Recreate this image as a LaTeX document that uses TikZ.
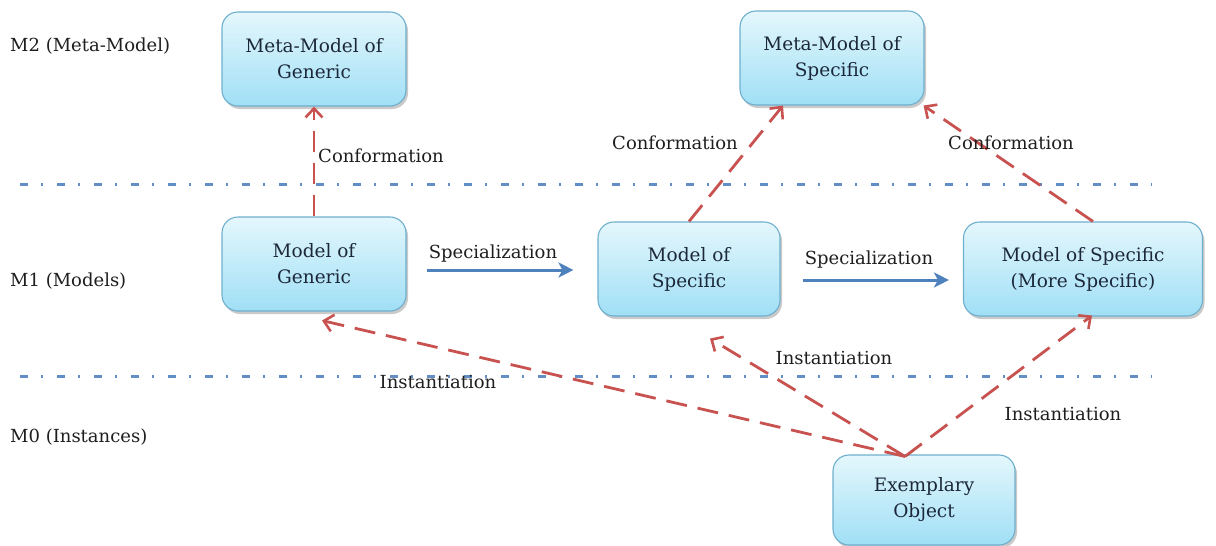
\documentclass[tikz,border=0pt]{standalone}
\usepackage{fontspec}
\setmainfont{DejaVu Serif}
\usetikzlibrary{arrows.meta,shadows,calc}

\definecolor{boxtop}{RGB}{228,247,252}
\definecolor{boxbot}{RGB}{160,223,246}
\definecolor{boxedge}{RGB}{110,175,205}
\definecolor{boxtext}{RGB}{28,40,58}
\definecolor{labeltext}{RGB}{30,30,30}
\definecolor{redline}{RGB}{200,82,80}
\definecolor{blueline}{RGB}{79,129,189}

\tikzset{
  modelbox/.style={rounded corners=16pt, draw=boxedge, line width=1.1pt,
    top color=boxtop, bottom color=boxbot, align=center, text=boxtext,
    font=\fontsize{18.5}{26}\selectfont, inner sep=0pt,
    drop shadow={shadow xshift=2pt, shadow yshift=-3pt, opacity=0.35, fill=black!60}},
  lbl/.style={text=labeltext, font=\fontsize{18}{21}\selectfont, inner sep=0pt},
  levellbl/.style={lbl, anchor=west},
  relarrow/.style={draw=redline, line width=2.8pt, dash pattern=on 21pt off 11pt,
    -{Straight Barb[length=9pt,width=17pt,line width=2.6pt]}},
  specarrow/.style={draw=blueline, line width=3pt,
    -{Stealth[length=15pt,width=15pt,inset=4pt]}},
  levelline/.style={draw=blueline!90, line width=3pt,
    dash pattern=on 8pt off 13pt on 2pt off 14pt},
}

\begin{document}
\begin{tikzpicture}[x=1pt,y=-1pt]
\useasboundingbox (0,0) rectangle (1216,546);

% level separators
\coordinate (l1a) at (20,184);
\coordinate (l1b) at (1152,184);
\coordinate (l2a) at (20,376);
\coordinate (l2b) at (1152,376);
\draw[levelline] (l1a) -- (l1b);
\draw[levelline] (l2a) -- (l2b);

% level names
\node[levellbl] (m2) at (10,46) {M2 (Meta-Model)};
\node[levellbl] (m1) at (10,281) {M1 (Models)};
\node[levellbl] (m0) at (10,437) {M0 (Instances)};

% models
\node[modelbox, minimum width=184pt, minimum height=94pt] (mmg) at (314,59) {Meta-Model of\\Generic};
\node[modelbox, minimum width=184pt, minimum height=94pt] (mms) at (832,58) {Meta-Model of\\Specific};
\node[modelbox, minimum width=184pt, minimum height=94pt] (mg) at (314,264) {Model of\\Generic};
\node[modelbox, minimum width=182pt, minimum height=94pt] (ms) at (689,269) {Model of\\Specific};
\node[modelbox, minimum width=239pt, minimum height=94pt] (mss) at (1083,269) {Model of Specific\\(More Specific)};
\node[modelbox, minimum width=182pt, minimum height=90pt] (eo) at (924,500) {Exemplary\\Object};

% conformation
\draw[relarrow] (mg.north) -- (mmg.south);
\draw[relarrow] (ms.north) -- ([xshift=-49pt]mms.south);
\draw[relarrow] ([xshift=10pt]mss.north) -- ([xshift=-1pt]mms.south east);
\node[lbl] (c1) at (381,156) {Conformation};
\node[lbl] (c2) at (675,143) {Conformation};
\node[lbl] (c3) at (1011,143) {Conformation};

% specialization
\draw[specarrow] ([xshift=20pt,yshift=-6pt]mg.east) -- ([xshift=-24pt,yshift=-1pt]ms.west);
\draw[specarrow] ([xshift=22pt,yshift=-11pt]ms.east) -- ([xshift=-14pt,yshift=-11pt]mss.west);
\node[lbl] (s1) at (493,254) {Specialization};
\node[lbl] (s2) at (869,260) {Specialization};

% instantiation
\coordinate (eotop) at ($(eo.north)+(-19,2)$);
\draw[relarrow] (eotop) -- ([xshift=8pt,yshift=-9pt]mg.south);
\draw[relarrow] (eotop) -- ([xshift=21pt,yshift=-22pt]ms.south);
\draw[relarrow] (eotop) -- ([xshift=9pt,yshift=1pt]mss.south);
\node[lbl] (i1) at (438,382) {Instantiation};
\node[lbl] (i2) at (834,358) {Instantiation};
\node[lbl] (i3) at (1063,414) {Instantiation};
\end{tikzpicture}
\end{document}
